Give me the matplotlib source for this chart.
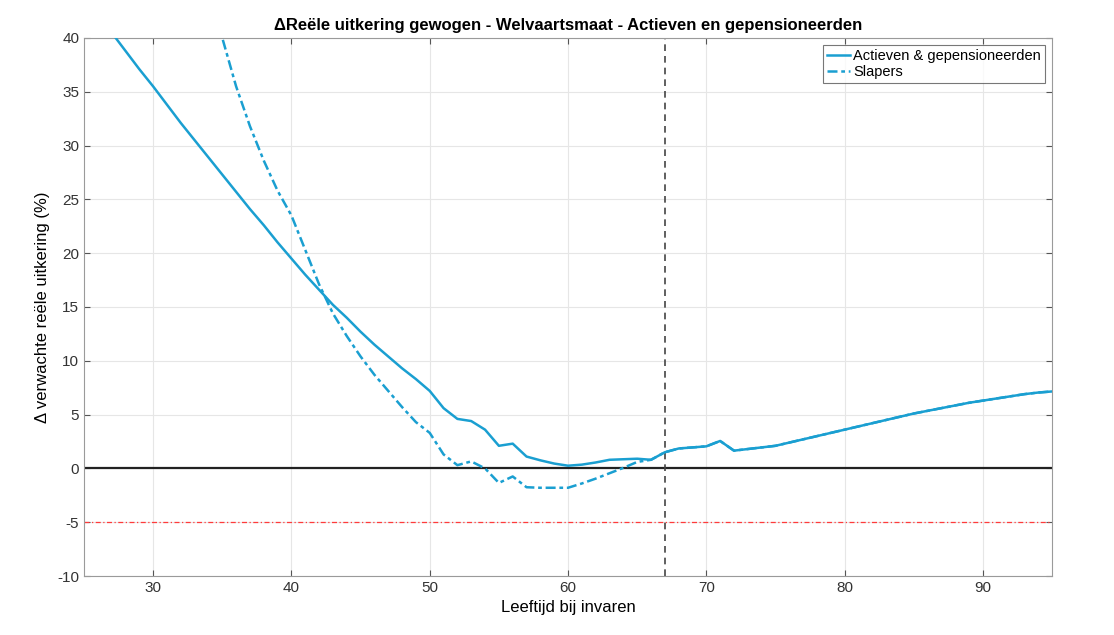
import matplotlib
matplotlib.use("Agg")
import matplotlib.pyplot as plt

plt.rcParams["font.family"] = ["Liberation Sans", "DejaVu Sans"]
plt.rcParams["axes.unicode_minus"] = False

# ── Data ─────────────────────────────────────────────────────────────────────
ages = list(range(25, 96))

actieven = [
    43.8, 42.1, 40.5, 38.8, 37.1, 35.5, 33.8, 32.1, 30.5, 28.9,   # 25-34
    27.3, 25.7, 24.1, 22.6, 21.0, 19.5, 18.0, 16.6, 15.2, 14.0,   # 35-44
    12.7, 11.5, 10.4, 9.3, 8.3, 7.2, 5.6, 4.6, 4.4, 3.6,          # 45-54
    2.1, 2.3, 1.1, 0.75, 0.45, 0.25, 0.35, 0.55, 0.8, 0.85,       # 55-64
    0.9, 0.8, 1.5, 1.85, 1.95, 2.05, 2.55, 1.65, 1.8, 1.95,       # 65-74
    2.1, 2.4, 2.7, 3.0, 3.3, 3.6, 3.9, 4.2, 4.5, 4.8,             # 75-84
    5.1, 5.35, 5.6, 5.85, 6.1, 6.3, 6.5, 6.7, 6.9, 7.05,          # 85-94
    7.15,                                                          # 95
]

slapers_ages = list(range(34, 96))
slapers = [
    44.5,                                                          # 34
    40.0, 35.5, 31.8, 28.6, 25.8, 23.5, 20.3, 17.1, 14.4, 12.3,   # 35-44
    10.4, 8.7, 7.2, 5.7, 4.3, 3.3, 1.3, 0.3, 0.65, 0.0,           # 45-54
    -1.35, -0.75, -1.75, -1.8, -1.8, -1.8, -1.4, -0.95, -0.45, 0.05,  # 55-64
    0.6, 0.8, 1.5, 1.85, 1.95, 2.05, 2.55, 1.65, 1.8, 1.95,       # 65-74
    2.1, 2.4, 2.7, 3.0, 3.3, 3.6, 3.9, 4.2, 4.5, 4.8,             # 75-84
    5.1, 5.35, 5.6, 5.85, 6.1, 6.3, 6.5, 6.7, 6.9, 7.05,          # 85-94
    7.15,                                                          # 95
]

pension_age = 67
threshold = -5

x_ticks = [30, 40, 50, 60, 70, 80, 90]
y_ticks = list(range(-10, 41, 5))

LINE_COLOR = "#1a9fd1"

fig = plt.figure(figsize=(11.14, 6.35), dpi=100)
fig.patch.set_facecolor("white")
ax = fig.add_axes([0.0754, 0.0929, 0.869, 0.8473])

ax.plot(ages, actieven, color=LINE_COLOR, lw=1.8,
        label="Actieven & gepensioneerden", zorder=4)
ax.plot(slapers_ages, slapers, color=LINE_COLOR, lw=1.8,
        ls=(0, (4, 1.5, 1.5, 1.5)), label="Slapers", zorder=3)

ax.axhline(0, color="#222222", lw=1.6, zorder=2)
ax.axhline(threshold, color="#ff3b3b", lw=0.9, ls=(0, (4, 2, 1, 2)), zorder=2)
ax.axvline(pension_age, color="#444444", lw=1.2, ls=(0, (4, 3)), zorder=2)

ax.set_xlim(25, 95)
ax.set_ylim(-10, 40)
ax.set_xticks(x_ticks)
ax.set_yticks(y_ticks)
ax.grid(True, color="#e6e6e6", lw=0.8)
ax.set_axisbelow(True)
ax.tick_params(direction="in", length=4, color="#555555", labelsize=11,
               labelcolor="#333333", top=True, right=True)
for sp in ax.spines.values():
    sp.set_color("#9a9a9a")
    sp.set_linewidth(0.8)

ax.set_title("ΔReële uitkering gewogen - Welvaartsmaat - Actieven en gepensioneerden",
             fontsize=12, fontweight="bold", pad=6)
ax.set_xlabel("Leeftijd bij invaren", fontsize=12, labelpad=4)
ax.set_ylabel("Δ verwachte reële uitkering (%)", fontsize=12, labelpad=5)

leg = ax.legend(loc="upper right", fontsize=10.5, frameon=True, fancybox=False,
                edgecolor="#555555", handlelength=1.6, handletextpad=0.2,
                borderpad=0.25, labelspacing=0.15, borderaxespad=0.5)
leg.get_frame().set_linewidth(0.8)

fig.savefig("out.png", dpi=100, facecolor="white")
